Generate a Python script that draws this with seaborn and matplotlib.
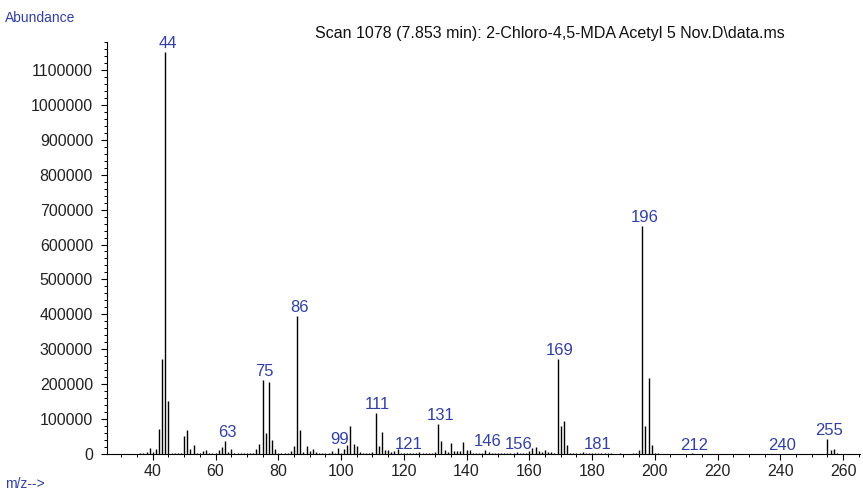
import matplotlib
matplotlib.use("Agg")
import matplotlib.pyplot as plt
import seaborn as sns
import pandas as pd
from matplotlib.ticker import MultipleLocator, StrMethodFormatter

# m/z values and abundances
mz = list(range(36, 202)) + [212, 240, 255, 256, 257, 258]
abundance = [
    2500, 3000, 5000, 18000, 5000, 13000, 72000, 273000, 1152000, 151000,    # 36-45
    3000, 1500, 2500, 3000, 51000, 70000, 15000, 27000, 3000, 3500,          # 46-55
    8600, 11500, 3000, 2500, 3000, 11500, 20000, 38000, 5000, 15000,         # 56-65
    4000, 3000, 2500, 3500, 2500, 3000, 3000, 13000, 30000, 212000,          # 66-75
    61000, 206000, 41000, 13000, 3000, 1500, 2000, 3000, 9500, 24000,        # 76-85
    395000, 70000, 5000, 22000, 10000, 15000, 5000, 3000, 2500, 2000,        # 86-95
    3000, 9000, 3000, 18000, 3000, 15000, 25000, 81000, 30000, 22000,        # 96-105
    6000, 4000, 3000, 3000, 6000, 117000, 23000, 64000, 10500, 12000,        # 106-115
    6000, 8000, 13000, 2000, 2000, 3000, 2500, 3000, 2000, 6000,             # 116-125
    3000, 3000, 3000, 3000, 5000, 86000, 36000, 11500, 5000, 31500,          # 126-135
    7600, 7600, 10000, 33000, 11000, 11000, 3000, 2500, 2500, 3000,          # 136-145
    12500, 5000, 3000, 2500, 3000, 2500, 2000, 3000, 2500, 3000,             # 146-155
    5000, 3000, 2500, 3000, 7600, 16000, 20000, 8000, 5000, 11000,           # 156-165
    5000, 5000, 3000, 272000, 79000, 94000, 25000, 3000, 4000, 3500,         # 166-175
    4000, 5000, 3000, 2500, 2000, 2500, 2000, 2000, 1500, 1500,              # 176-185
    1500, 1000, 1000, 1500, 1000, 1000, 1000, 1500, 2000, 12000,             # 186-195
    654000, 79000, 217000, 25000, 4000, 1500,                                # 196-201
    1500, 1000, 43000, 11500, 15000, 3000,                                   # 212, 240, 255-258
]

# peaks carrying an m/z label
labelled = [44, 63, 75, 86, 99, 111, 121, 131, 146, 156, 169, 181, 196, 212, 240, 255]

title = r"Scan 1078 (7.853 min): 2-Chloro-4,5-MDA Acetyl 5 Nov.D\data.ms"

df = pd.DataFrame({"mz": mz, "abundance": abundance})

sns.set_style("ticks")
plt.rcParams["font.family"] = ["Liberation Sans", "DejaVu Sans"]

blue = "#3340a3"

fig = plt.figure(figsize=(8.63, 4.92), dpi=100)
ax = fig.add_axes([107 / 863, 1 - 454 / 492, 753 / 863, 412 / 492])

ax.vlines(df["mz"], 0, df["abundance"], color="black", linewidth=1.0)

lookup = dict(zip(df["mz"], df["abundance"]))
for m in labelled:
    ax.annotate(str(m), xy=(m, lookup[m]), xytext=(1.5, 0.5), textcoords="offset points",
                ha="center", va="bottom", color=blue, fontsize=12)

ax.set_xlim(25.4, 265.4)
ax.set_ylim(0, 1180000)

ax.xaxis.set_minor_locator(MultipleLocator(5))
ax.yaxis.set_major_locator(MultipleLocator(100000))
ax.yaxis.set_minor_locator(MultipleLocator(20000))
ax.yaxis.set_major_formatter(StrMethodFormatter("{x:.0f}"))
ax.set_xticks(range(40, 261, 20))

ax.tick_params(axis="both", which="major", length=4, width=0.8, labelsize=11.5,
               labelcolor="#222222", color="black")
ax.tick_params(axis="both", which="minor", length=2, width=0.7, color="black")
ax.tick_params(axis="y", pad=6)
ax.tick_params(axis="x", pad=3)

sns.despine(ax=ax)
for s in ["left", "bottom"]:
    ax.spines[s].set_linewidth(0.8)
    ax.spines[s].set_color("black")
ax.set_xlabel("")
ax.set_ylabel("")

fig.text(5 / 863, 1 - 18 / 492, "Abundance", color=blue, fontsize=10, ha="left", va="center")
fig.text(5 / 863, 1 - 484 / 492, "m/z-->", color=blue, fontsize=10, ha="left", va="center")
fig.text(785 / 863, 1 - 33 / 492, title, color="#111111", fontsize=11.5, ha="right", va="center")

fig.savefig("out.png", dpi=100)
